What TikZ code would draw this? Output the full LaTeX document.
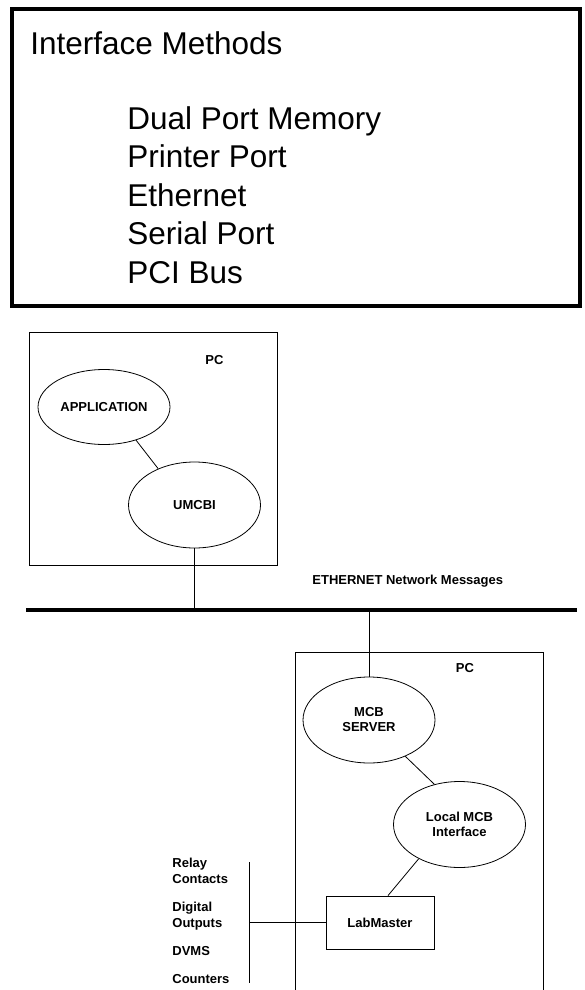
\documentclass[tikz,border=0pt]{standalone}
\usepackage{fontspec}
\setmainfont{Liberation Sans}
\usetikzlibrary{shapes.geometric}

\begin{document}
\begin{tikzpicture}[x=1pt,y=-1pt,line width=0.8pt,
        bubble/.style={draw,ellipse,minimum width=132pt,minimum height=86pt,
            inner sep=0pt,align=center,font=\fontsize{13}{15}\selectfont\bfseries},
        lbl/.style={inner sep=0pt,align=left,font=\fontsize{13}{15.5}\selectfont\bfseries},
        big/.style={inner sep=0pt,anchor=base west,font=\fontsize{31.5}{38.5}\selectfont}]
    \useasboundingbox (0,0) rectangle (585,990);

    % interface methods
    \draw[line width=4pt] (12,9) rectangle (580,306);
    \node[big] (title) at (30,55) {Interface Methods};
    \foreach \txt [count=\i from 0] in {Dual Port Memory,Printer Port,Ethernet,Serial Port,PCI Bus}
        \node[big] (m\i) at (127,129+38.5*\i) {\txt};

    % upper PC
    \draw (29,332) rectangle (277,565);
    \node[lbl] (pca) at (214.5,360.5) {PC};
    \node[bubble,minimum height=75pt] (app) at (104,407) {APPLICATION};
    \node[bubble] (umcbi) at (194.5,505) {UMCBI};

    % network
    \coordinate (busl) at (26,610);
    \coordinate (busr) at (577,610);
    \draw[line width=4pt] (busl) -- (busr);
    \node[lbl,anchor=base west] (eth) at (312,584) {ETHERNET Network Messages};

    % lower PC
    \draw (295,990) -- (295,652) -- (543,652) -- (543,990);
    \node[lbl] (pcb) at (465,668) {PC};
    \node[bubble] (server) at (369,720) {MCB\\SERVER};
    \node[bubble] (local) at (459.5,824.5) {Local MCB\\Interface};
    \node[draw,minimum width=108pt,minimum height=53pt,inner sep=0pt,
        font=\fontsize{13}{15}\selectfont\bfseries] (lab) at (380,922.5) {LabMaster};

    \draw (app.-46) -- (umcbi.135);
    \draw (umcbi.south) -- (umcbi.south |- busl);
    \draw (server.north) -- (server.north |- busl);
    \draw (server.-45) -- (local.122);
    \draw (local.-140) -- ([xshift=8pt]lab.north);

    % outputs
    \coordinate (brkt) at (249,862);
    \coordinate (brkb) at (249,983);
    \draw (brkt) -- (brkb);
    \draw (lab.west) -- (lab.west -| brkt);
    \node[lbl,anchor=base west] (relay) at (172,883) {Relay\\Contacts};
    \node[lbl,anchor=base west] (digital) at (172,927) {Digital\\Outputs};
    \node[lbl,anchor=base west] (dvms) at (172,955) {DVMS};
    \node[lbl,anchor=base west] (counters) at (172,983) {Counters};
\end{tikzpicture}
\end{document}
